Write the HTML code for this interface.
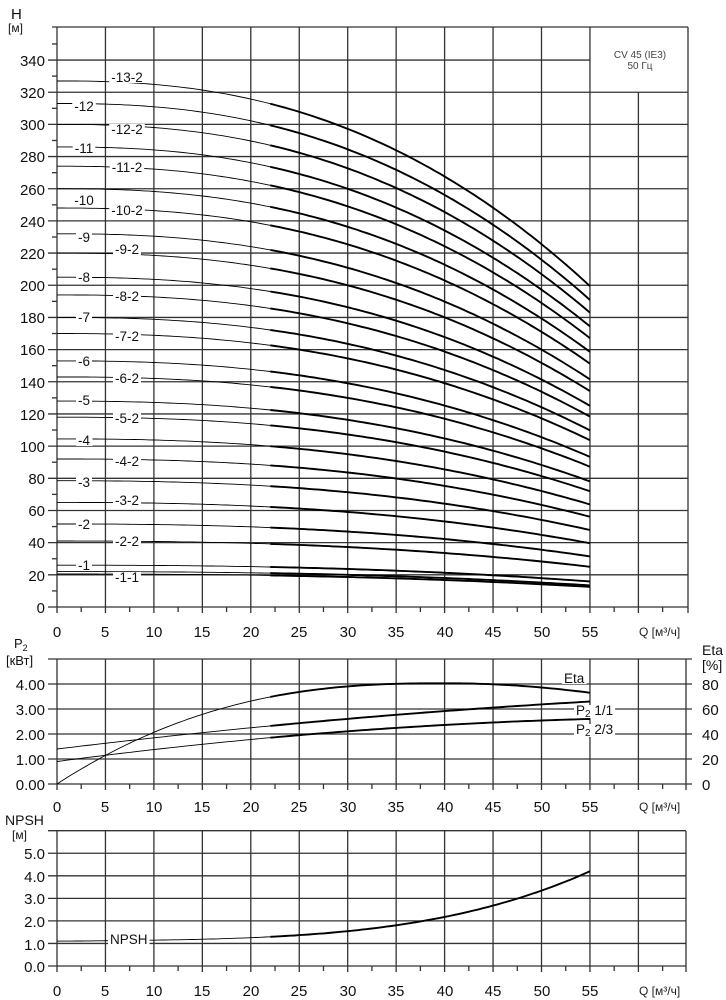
<!DOCTYPE html>
<html><head><meta charset="utf-8"><style>
html,body{margin:0;padding:0;background:#fff;}
svg{display:block;font-family:"Liberation Sans",sans-serif;}
.t{font-size:15px;fill:#111}
.l{font-size:13.5px;fill:#111}
</style></head><body>
<svg id="s" width="726" height="1000" viewBox="0 0 726 1000" xmlns="http://www.w3.org/2000/svg">
<g id="grid"></g>
<g id="curves" fill="none" stroke="#000"></g>
<text x="11" y="19" class="t" font-size="14">H</text>
<text x="8" y="32" font-size="12" fill="#111">[м]</text>
<g class="t" text-anchor="end">
<text x="45" y="66">340</text><text x="45" y="98">320</text><text x="45" y="130">300</text><text x="45" y="162">280</text><text x="45" y="195">260</text><text x="45" y="227">240</text><text x="45" y="259">220</text><text x="45" y="291">200</text><text x="45" y="323">180</text><text x="45" y="355">160</text><text x="45" y="388">140</text><text x="45" y="420">120</text><text x="45" y="452">100</text><text x="45" y="484">80</text><text x="45" y="516">60</text><text x="45" y="548">40</text><text x="45" y="581">20</text><text x="45" y="613">0</text>
</g>
<g class="t" text-anchor="middle">
<text x="57" y="637">0</text><text x="105" y="637">5</text><text x="154" y="637">10</text><text x="202" y="637">15</text><text x="251" y="637">20</text><text x="299" y="637">25</text><text x="348" y="637">30</text><text x="396" y="637">35</text><text x="445" y="637">40</text><text x="493" y="637">45</text><text x="542" y="637">50</text><text x="590" y="637">55</text>
<text x="57" y="812">0</text><text x="105" y="812">5</text><text x="154" y="812">10</text><text x="202" y="812">15</text><text x="251" y="812">20</text><text x="299" y="812">25</text><text x="348" y="812">30</text><text x="396" y="812">35</text><text x="445" y="812">40</text><text x="493" y="812">45</text><text x="542" y="812">50</text><text x="590" y="812">55</text>
<text x="57" y="996">0</text><text x="105" y="996">5</text><text x="154" y="996">10</text><text x="202" y="996">15</text><text x="251" y="996">20</text><text x="299" y="996">25</text><text x="348" y="996">30</text><text x="396" y="996">35</text><text x="445" y="996">40</text><text x="493" y="996">45</text><text x="542" y="996">50</text><text x="590" y="996">55</text>
</g>
<text x="639" y="636" font-size="12" fill="#222">Q [м³/ч]</text>
<text x="639" y="811" font-size="12" fill="#222">Q [м³/ч]</text>
<text x="639" y="995" font-size="12" fill="#222">Q [м³/ч]</text>
<text x="640" y="58" font-size="10" fill="#444" text-anchor="middle">CV 45 (IE3)</text>
<text x="640" y="69" font-size="10" fill="#444" text-anchor="middle">50 Гц</text>
<g id="lbl">
<g class="l" text-anchor="middle">
<text x="127" y="82">-13-2</text>
<text x="84" y="111">-12</text><text x="127" y="134">-12-2</text>
<text x="84" y="153">-11</text><text x="127" y="172">-11-2</text>
<text x="84" y="205">-10</text><text x="127" y="215">-10-2</text>
<text x="84" y="242">-9</text><text x="127" y="254">-9-2</text>
<text x="84" y="282">-8</text><text x="127" y="301">-8-2</text>
<text x="84" y="322">-7</text><text x="127" y="341">-7-2</text>
<text x="84" y="366">-6</text><text x="127" y="383">-6-2</text>
<text x="84" y="405">-5</text><text x="127" y="423">-5-2</text>
<text x="84" y="445">-4</text><text x="127" y="466">-4-2</text>
<text x="84" y="487">-3</text><text x="127" y="505">-3-2</text>
<text x="84" y="529">-2</text><text x="127" y="546">-2-2</text>
<text x="84" y="570">-1</text><text x="127" y="582">-1-1</text>
</g>
<g class="l" font-size="14">
<text x="564" y="683">Eta</text>
<text x="576" y="715">P<tspan font-size="10" dy="2">2</tspan><tspan dy="-2"> 1/1</tspan></text>
<text x="576" y="734">P<tspan font-size="10" dy="2">2</tspan><tspan dy="-2"> 2/3</tspan></text>
</g>
<text class="l" x="110" y="944" font-size="12">NPSH</text>
</g>
<text x="14" y="648" font-size="13" fill="#111">P<tspan font-size="9" dy="3">2</tspan></text>
<text x="6" y="665" font-size="13" fill="#111">[кВт]</text>
<g class="t" text-anchor="end">
<text x="45" y="690">4.00</text><text x="45" y="715">3.00</text><text x="45" y="740">2.00</text><text x="45" y="765">1.00</text><text x="45" y="790">0.00</text>
</g>
<text x="702" y="655" font-size="14" fill="#111">Eta</text>
<text x="702" y="670" font-size="14" fill="#111">[%]</text>
<g class="t"><text x="702" y="690">80</text><text x="702" y="715">60</text><text x="702" y="740">40</text><text x="702" y="765">20</text><text x="702" y="790">0</text></g>
<text x="5" y="825" font-size="14" fill="#111">NPSH</text>
<text x="12" y="839" font-size="12" fill="#111">[м]</text>
<g class="t" text-anchor="end">
<text x="45" y="859">5.0</text><text x="45" y="882">4.0</text><text x="45" y="904">3.0</text><text x="45" y="927">2.0</text><text x="45" y="950">1.0</text><text x="45" y="972">0.0</text>
</g>
</svg>
<script>
(function(){
var NS="http://www.w3.org/2000/svg";
var s=document.getElementById('s');
var grid=document.getElementById('grid'),cur=document.getElementById('curves');
function ln(g,x1,y1,x2,y2,w,c){var e=document.createElementNS(NS,'line');e.setAttribute('x1',x1);e.setAttribute('y1',y1);e.setAttribute('x2',x2);e.setAttribute('y2',y2);e.setAttribute('stroke',c||'#333');e.setAttribute('stroke-width',w||1.3);g.appendChild(e);}
function X(q){return 57+q*9.69;}
var yT=function(h){return 607-h*1.6087;};
var top=27,bot=607,R=688;
for(var q=0;q<=60;q+=5){var x=X(q);var y1=(q==60)?yT(320):top;ln(grid,x,y1,x,bot+6);}
ln(grid,R,top,R,bot+6);
for(var h=0;h<=320;h+=20){ln(grid,48,yT(h),R,yT(h));}
ln(grid,48,yT(340),X(55),yT(340));ln(grid,52,top,R,top);
for(var h=10;h<=350;h+=20){ln(grid,52,yT(h),57,yT(h));}
for(var q=2.5;q<65;q+=5){ln(grid,X(q),bot,X(q),bot+5);}
var yM=function(p){return 784-p*25;};R=686;
for(var q=0;q<=60;q+=5){ln(grid,X(q),659,X(q),790);}
ln(grid,R,659,R,790);
for(var p=0;p<=5;p++){ln(grid,48,yM(p),R+6,yM(p));}
for(var q=2.5;q<65;q+=5){ln(grid,X(q),784,X(q),789);}
var yB=function(n){return 966-n*22.55;};
for(var q=0;q<=60;q+=5){ln(grid,X(q),831,X(q),972);}
ln(grid,R,831,R,972);
for(var n=0;n<=6;n++){ln(grid,48,yB(n),R,yB(n));}
for(var q=2.5;q<65;q+=5){ln(grid,X(q),966,X(q),971);}
function path(f,yf,a,b,w){var d='';for(var q=a;q<=b+1e-6;q+=0.5){d+=(d?'L':'M')+X(q).toFixed(1)+','+yf(f(q)).toFixed(1);}
 var e=document.createElementNS(NS,'path');e.setAttribute('d',d);e.setAttribute('stroke-width',w);cur.appendChild(e);}
function curve(f,yf){path(f,yf,0,22,0.9);path(f,yf,22,55,1.9);}
var H0=[327,313,300,286,274,260,248,232,220,205,194,180,170,153,143,128,118,104.5,92,78.5,65,51.6,41,26,22,20.5];
H0.forEach(function(h0){curve(function(q){return h0*(1-0.39*Math.pow(q/55,2.4));},yT);});
curve(function(q){var e=q<=40?80.6*(1-Math.pow(1-q/40,2.5)):80.6-0.0338*(q-40)*(q-40);return e/20;},yM);
curve(function(q){return 1.4+0.047*q-0.000227*q*q;},yM);
curve(function(q){return 0.9+0.0515*q-0.000374*q*q;},yM);
curve(function(q){return 1.1+0.004*q+2.88*Math.pow(q/55,3.6);},yB);
// white backgrounds for labels
var lbl=document.getElementById('lbl');s.appendChild(lbl);
var ts=lbl.querySelectorAll('text');
ts.forEach(function(t){var b=t.getBBox();var r=document.createElementNS(NS,'rect');
 r.setAttribute('x',b.x-2);r.setAttribute('y',b.y+2);r.setAttribute('width',b.width+4);r.setAttribute('height',b.height-4);r.setAttribute('fill','#fff');
 lbl.insertBefore(r,lbl.firstChild);});
})();
</script>
</body></html>
